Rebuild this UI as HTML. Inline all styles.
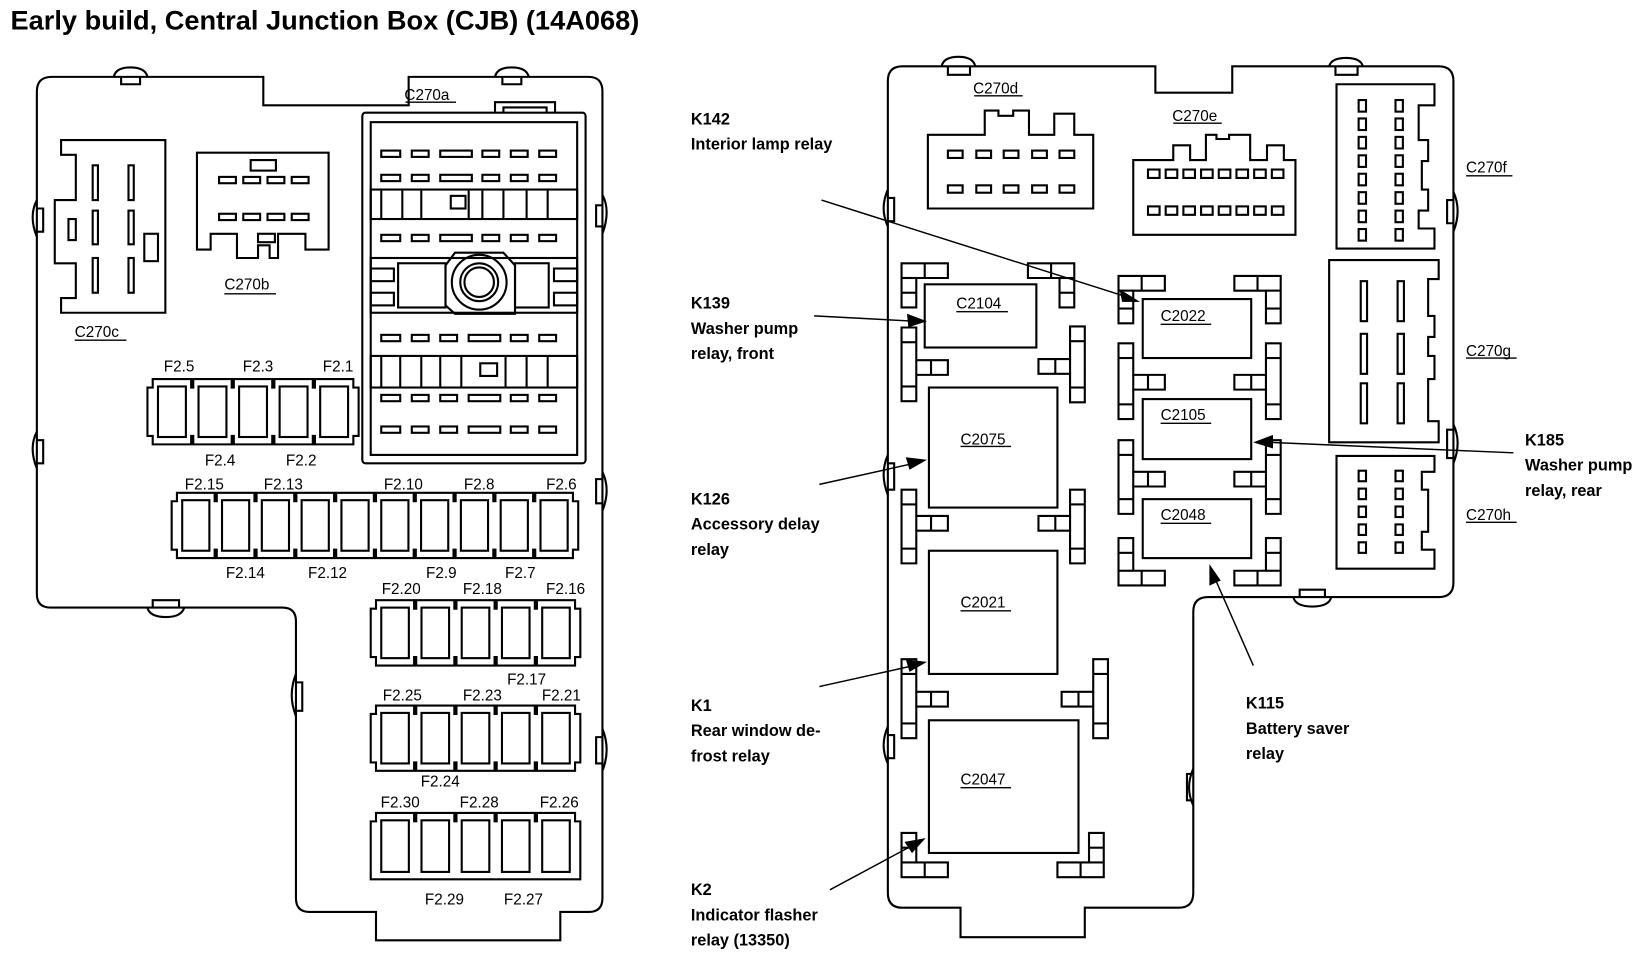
<!DOCTYPE html>
<html><head><meta charset="utf-8"><style>
html,body{margin:0;padding:0;background:#fff;}
svg{display:block;}
text{font-family:"Liberation Sans",Arial,sans-serif;fill:#000;}
.b{font-weight:bold;font-size:15.5px;}
.l{font-size:14.5px;}
</style></head><body>
<svg id="s" width="1643" height="953" viewBox="0 0 1560 905" preserveAspectRatio="none" xmlns="http://www.w3.org/2000/svg">
<g fill="none" stroke="#000" stroke-width="2" id="g">
<path d="M35,87 Q35,73 49,73 L250,73 L250,100 L388,100 L388,73 L559,73 Q572,73 572,87 L572,853 Q572,866 559,866 L532,866 L532,893 L357,893 L357,866 L294,866 Q281,866 281,853 L281,590 Q281,577 268,577 L48,577 Q35,577 35,564 Z"/>
<path d="M108,73 Q110,64 124,64 Q138,64 140,73 M115,73 L115,80 L133,80 L133,73"/>
<path d="M470,73 Q472,64 486,64 Q500,64 502,73 M477,73 L477,80 L495,80 L495,73"/>
<path d="M35,190 Q27,205 35,225 M35,198 L41,198 L41,220 L35,220"/>
<path d="M35,410 Q27,425 35,445 M35,418 L41,418 L41,440 L35,440"/>
<path d="M572,185 Q580,200 572,222 M572,195 L566,195 L566,215 L572,215"/>
<path d="M572,448 Q580,465 572,485 M572,455 L566,455 L566,478 L572,478"/>
<path d="M572,692 Q580,712 572,732 M572,700 L566,700 L566,725 L572,725"/>
<path d="M281,640 Q273,660 281,680 M281,648 L287,648 L287,675 L281,675"/>
<path d="M140,577 Q142,586 158,586 Q172,586 175,577 M145,577 L145,570 L170,570 L170,577"/>
<path d="M58,133 L157,133 L157,297 L58,297 L58,283 L72,283 L72,250 L52,250 L52,190 L72,190 L72,147 L58,147 Z"/>
<rect x="88" y="157" width="5" height="33"/><rect x="122" y="157" width="5" height="33"/>
<rect x="88" y="200" width="5" height="32"/><rect x="122" y="200" width="5" height="32"/>
<rect x="88" y="245" width="5" height="33"/><rect x="122" y="245" width="5" height="33"/>
<rect x="65" y="208" width="7" height="20"/><rect x="137" y="222" width="13" height="26"/>
<path d="M187,145 L312,145 L312,237 L290,237 L290,222 L264,222 L264,245 L256,245 L256,233 L245,233 L245,245 L225,245 L225,222 L200,222 L200,237 L187,237 Z"/>
<rect x="238" y="152" width="24" height="10"/><rect x="245" y="222" width="16" height="8"/>
<rect x="344" y="107" width="212" height="333" rx="3"/>
<rect x="352" y="116" width="196" height="316"/>
<path d="M470,107 L470,97 L527,97 L527,107 M478,107 L478,102 L519,102 L519,107"/>
<rect x="352" y="180" width="196" height="28"/><rect x="352" y="338" width="196" height="30"/>
<rect x="352" y="245" width="196" height="52"/>
<path d="M432,240 L478,240 L489,252 L489,298 L432,298 L423,290 L423,252 Z" />
<circle cx="455" cy="268" r="26"/><circle cx="455" cy="268" r="18"/><circle cx="455" cy="268" r="14"/>
<path d="M843,77 Q843,63 857,63 L1097,63 L1097,88 L1170,88 L1170,63 L1366,63 Q1380,63 1380,77 L1380,553 Q1380,567 1366,567 L1147,567 Q1133,567 1133,581 L1133,848 Q1133,862 1119,862 L1030,862 L1030,890 L912,890 L912,862 L857,862 Q843,862 843,848 Z"/>
<path d="M894,63 Q896,54 910,54 Q924,54 926,63 M900,63 L900,71 L921,71 L921,63"/>
<path d="M1262,63 Q1264,55 1278,55 Q1292,55 1294,63 M1268,63 L1268,71 L1289,71 L1289,63"/>
<path d="M843,180 Q835,198 843,215 M843,188 L849,188 L849,210 L843,210"/>
<path d="M843,432 Q835,450 843,470 M843,440 L849,440 L849,465 L843,465"/>
<path d="M843,690 Q835,708 843,725 M843,698 L849,698 L849,720 L843,720"/>
<path d="M1380,182 Q1388,200 1380,220 M1380,190 L1374,190 L1374,212 L1380,212"/>
<path d="M1380,403 Q1388,420 1380,440 M1380,408 L1374,408 L1374,435 L1380,435"/>
<path d="M1133,730 Q1125,748 1133,765 M1133,735 L1127,735 L1127,760 L1133,760"/>
<path d="M1228,567 Q1230,576 1246,576 Q1262,576 1264,567 M1234,567 L1234,560 L1258,560 L1258,567"/>
<path d="M881,128 L881,198 L1038,198 L1038,128 L1020,128 L1020,108 L1001,108 L1001,128 L977,128 L977,105 L962,105 L962,110 L948,110 L948,105 L935,105 L935,128 Z" />
<path d="M1076,152 L1076,223 L1230,223 L1230,152 L1219,152 L1219,138 L1203,138 L1203,152 L1187,152 L1187,128 L1167,128 L1167,132 L1155,132 L1155,128 L1145,128 L1145,152 L1130,152 L1130,138 L1114,138 L1114,152 Z"/>
<path d="M1269,80 L1362,80 L1362,100 L1347,100 L1347,133 L1356,133 L1356,153 L1350,153 L1350,180 L1356,180 L1356,200 L1347,200 L1347,217 L1362,217 L1362,236 L1269,236 Z"/>
<path d="M1262,247 L1366,247 L1366,265 L1356,265 L1356,300 L1362,300 L1362,320 L1356,320 L1356,338 L1362,338 L1362,360 L1356,360 L1356,400 L1366,400 L1366,420 L1262,420 Z"/>
<path d="M1269,433 L1362,433 L1362,448 L1350,448 L1350,465 L1356,465 L1356,505 L1350,505 L1350,522 L1362,522 L1362,540 L1269,540 Z"/>
<rect x="878" y="270" width="106" height="60"/>
<rect x="882" y="368" width="122" height="114"/>
<rect x="882" y="523" width="122" height="117"/>
<rect x="882" y="684" width="142" height="126"/>
<rect x="1085" y="284" width="103" height="56"/>
<rect x="1085" y="379" width="103" height="57"/>
<rect x="1085" y="474" width="103" height="56"/>
</g>
<g stroke="#000" stroke-width="1.3" fill="none">
<path d="M385,97 L433,97 M213,279 L262,279 M71,323 L120,323 M925,91 L971,91 M1114,117 L1160,117 M1392,167 L1436,167 M1392,340 L1440,340 M1392,496 L1440,496"/>
<path d="M908,296 L957,296 M912,424 L960,424 M912,580 L960,580 M912,748 L960,748 M1102,308 L1150,308 M1102,402 L1150,402 M1102,497 L1150,497"/>
</g>
<g stroke="#000" stroke-width="1.4" fill="#000">
<path d="M780,190 L1070,282" fill="none"/><path d="M1080,286 L1064,276 L1066,286 Z"/>
<path d="M773,300 L868,305" fill="none"/><path d="M878,305 L862,299 L863,310 Z"/>
<path d="M778,460 L868,440" fill="none"/><path d="M878,437 L861,435 L864,445 Z"/>
<path d="M778,652 L868,632" fill="none"/><path d="M878,629 L861,627 L864,637 Z"/>
<path d="M788,845 L868,802" fill="none"/><path d="M877,797 L860,800 L866,809 Z"/>
<path d="M1437,430 L1203,420" fill="none"/><path d="M1192,420 L1208,414 L1208,425 Z"/>
<path d="M1190,632 L1153,548" fill="none"/><path d="M1149,538 L1149,555 L1158,551 Z"/>
</g>
<text x="10" y="28" style="font-weight:bold;font-size:25.5px" textLength="597" lengthAdjust="spacingAndGlyphs">Early build, Central Junction Box (CJB) (14A068)</text>
<g class="l">
<text x="384" y="95">C270a</text>
<text x="213" y="275">C270b</text>
<text x="71" y="320">C270c</text>
<text x="924" y="89">C270d</text>
<text x="1113" y="115">C270e</text>
<text x="1392" y="164">C270f</text>
<text x="1392" y="338">C270g</text>
<text x="1392" y="494">C270h</text>
<text x="908" y="293">C2104</text>
<text x="912" y="422">C2075</text>
<text x="912" y="577">C2021</text>
<text x="912" y="745">C2047</text>
<text x="1102" y="305">C2022</text>
<text x="1102" y="399">C2105</text>
<text x="1102" y="494">C2048</text>
</g>
<g class="l" text-anchor="middle">
<text x="170" y="353">F2.5</text><text x="245" y="353">F2.3</text><text x="321" y="353">F2.1</text>
<text x="209" y="442">F2.4</text><text x="286" y="442">F2.2</text>
<text x="194" y="465">F2.15</text><text x="269" y="465">F2.13</text><text x="383" y="465">F2.10</text><text x="455" y="465">F2.8</text><text x="533" y="465">F2.6</text>
<text x="233" y="549">F2.14</text><text x="311" y="549">F2.12</text><text x="419" y="549">F2.9</text><text x="494" y="549">F2.7</text>
<text x="381" y="564">F2.20</text><text x="458" y="564">F2.18</text><text x="537" y="564">F2.16</text>
<text x="500" y="650">F2.17</text>
<text x="382" y="665">F2.25</text><text x="458" y="665">F2.23</text><text x="533" y="665">F2.21</text>
<text x="418" y="747">F2.24</text>
<text x="380" y="767">F2.30</text><text x="455" y="767">F2.28</text><text x="531" y="767">F2.26</text>
<text x="422" y="859">F2.29</text><text x="497" y="859">F2.27</text>
</g>
<g class="b">
<text x="656" y="118">K142</text><text x="656" y="142">Interior lamp relay</text>
<text x="656" y="293">K139</text><text x="656" y="317">Washer pump</text><text x="656" y="341">relay, front</text>
<text x="656" y="479">K126</text><text x="656" y="503">Accessory delay</text><text x="656" y="527">relay</text>
<text x="656" y="675">K1</text><text x="656" y="699">Rear window de-</text><text x="656" y="723">frost relay</text>
<text x="656" y="850">K2</text><text x="656" y="874">Indicator flasher</text><text x="656" y="898">relay (13350)</text>
<text x="1448" y="423">K185</text><text x="1448" y="447">Washer pump</text><text x="1448" y="471">relay, rear</text>
<text x="1183" y="673">K115</text><text x="1183" y="697">Battery saver</text><text x="1183" y="721">relay</text>
</g>
</svg>
<script>
(function(){
var g=document.getElementById('g'),NS='http://www.w3.org/2000/svg';
function el(t,a){var e=document.createElementNS(NS,t);for(var k in a)e.setAttribute(k,a[k]);g.appendChild(e);return e;}
function rect(x,y,w,h){el('rect',{x:x,y:y,width:w,height:h});}
function slotRow(y,ws){var x=362;ws.forEach(function(w){rect(x,y,w,6);x+=w+(w>20?10:11);});}
[143,166,223].forEach(function(y){slotRow(y,[18,16,30,16,16,16]);});
[318,375].forEach(function(y){slotRow(y,[18,16,16,30,16,16]);});
slotRow(405,[18,16,16,30,16,16]);
[[180,[362,382,400,445,458,478,500,520]],[338,[362,380,400,418,438,480,500,520]]].forEach(function(b){
 b[1].forEach(function(x){el('line',{x1:x,y1:b[0]+1,x2:x,y2:b[0]+(b[0]==180?27:29)});});});
rect(428,186,14,12);rect(456,345,16,12);
rect(352,255,22,12);rect(352,278,22,12);rect(526,255,22,12);rect(526,278,22,12);
rect(378,250,45,42);rect(489,250,32,42);
[168,203].forEach(function(y){[208,231,254,277].forEach(function(x){rect(x,y,16,6);});});
[143,176].forEach(function(y){[900,927,953,980,1006].forEach(function(x){rect(x,y,14,7);});});
[161,196].forEach(function(y){for(var i=0;i<8;i++)rect(1090+i*16.8,y,11,8);});
for(var i=0;i<8;i++){rect(1290,95+i*17.5,7,11);rect(1325,95+i*17.5,7,11);}
[[267,38],[317,38],[364,38]].forEach(function(s){rect(1292,s[0],6,s[1]);rect(1327,s[0],6,s[1]);});
for(var i=0;i<5;i++){rect(1290,447+i*17,7,10);rect(1325,447+i*17,7,10);}
function fuseBlock(x0,y0,n,step,h,flat){
 var fw=step-12;
 var d='M'+x0+','+(y0+8);
 for(var i=0;i<n;i++){var fx=x0+5+i*step;d+=' L'+(fx)+','+(y0+8)+' L'+fx+','+y0+' L'+(fx+step-2)+','+y0+' L'+(fx+step-2)+','+(y0+8);}
 var x1=x0+10+n*step-2;
 d+=' L'+x1+','+(y0+8)+' L'+x1+','+(y0+h-8);
 if(flat){d+=' L'+x1+','+(y0+h)+' L'+x0+','+(y0+h);}
 else{for(var i=n-1;i>=0;i--){var fx=x0+5+i*step;d+=' L'+(fx+step-2)+','+(y0+h-8)+' L'+(fx+step-2)+','+(y0+h)+' L'+fx+','+(y0+h)+' L'+fx+','+(y0+h-8);}
 d+=' L'+x0+','+(y0+h-8);}
 d+=' Z';el('path',{d:d});
 for(var i=0;i<n;i++){rect(x0+10+i*step,y0+7,fw,h-14);}
}
fuseBlock(140,360,5,38.5,62,false);
fuseBlock(163,468,10,37.8,62,false);
fuseBlock(352,570,5,38.2,62,false);
fuseBlock(352,670,5,38.2,62,false);
fuseBlock(352,772,5,38.2,63,true);
function shape(pts,lines,tx,ty,sx,sy){
 var gg=document.createElementNS(NS,'g');gg.setAttribute('transform','translate('+tx+','+ty+') scale('+sx+','+sy+')');
 var p=document.createElementNS(NS,'polygon');p.setAttribute('points',pts);gg.appendChild(p);
 lines.forEach(function(l){var e=document.createElementNS(NS,'line');e.setAttribute('x1',l[0]);e.setAttribute('y1',l[1]);e.setAttribute('x2',l[2]);e.setAttribute('y2',l[3]);gg.appendChild(e);});
 g.appendChild(gg);}
function L(h){return '0,0 44,0 44,14 14,14 14,'+h+' 0,'+h;}
function Ll(h){return [[0,14,14,14],[22,0,22,14],[0,h-14,14,h-14]];}
function T(h,a){return '0,0 14,0 14,'+a+' 44,'+a+' 44,'+(a+14)+' 14,'+(a+14)+' 14,'+h+' 0,'+h;}
function Tl(h,a){return [[0,14,14,14],[14,a,14,a+14],[28,a,28,a+14],[0,h-14,14,h-14]];}
// left column
shape(L(42),Ll(42),856,250,1,1);shape(L(42),Ll(42),1020,250,-1,1);
shape(T(70,31),Tl(70,31),856,311,1,1);shape(T(72,31),Tl(72,31),1030,310,-1,1);
shape(T(70,25),Tl(70,25),856,465,1,1);shape(T(70,25),Tl(70,25),1030,465,-1,1);
shape(T(75,31),Tl(75,31),856,626,1,1);shape(T(75,31),Tl(75,31),1052,626,-1,1);
shape(L(42),Ll(42),856,833,1,-1);shape(L(42),Ll(42),1048,833,-1,-1);
// right column
shape(L(45),Ll(45),1062,262,1,1);shape(L(45),Ll(45),1216,262,-1,1);
shape(T(72,30),Tl(72,30),1062,326,1,1);shape(T(72,30),Tl(72,30),1216,326,-1,1);
shape(T(70,30),Tl(70,30),1062,418,1,1);shape(T(70,30),Tl(70,30),1216,418,-1,1);
shape(L(45),Ll(45),1062,556,1,-1);shape(L(45),Ll(45),1216,556,-1,-1);
})();
</script>
</body></html>
